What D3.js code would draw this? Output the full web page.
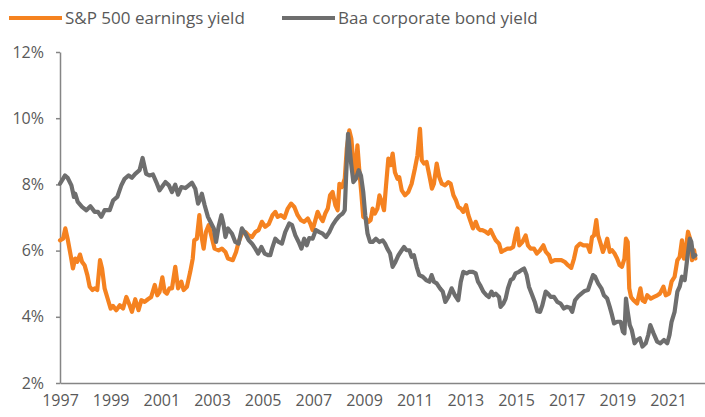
<!DOCTYPE html>
<html>
<head>
<meta charset="utf-8">
<script src="https://cdn.jsdelivr.net/npm/d3@7"></script>
<style>
  body { margin: 0; background: #fff; }
  text { font-family: "Open Sans", sans-serif; }
</style>
</head>
<body>
<div id="chart"></div>
<script>
const WIDTH = 705;
const HEIGHT = 417;
const MARGIN = { top: 52, right: 0, bottom: 34, left: 60 };

// series names + colours
const seriesNames = ['S&P 500 earnings yield', 'Baa corporate bond yield'];
const seriesColors = ['#f58220', '#6e6e6e'];

const yTicks = [2, 4, 6, 8, 10, 12];
const xTicks = [1997, 1999, 2001, 2003, 2005, 2007, 2009, 2011, 2013, 2015, 2017, 2019, 2021];

// S&P 500 earnings yield (%)
const earningsDates = [
  1997.0, 1997.12, 1997.21, 1997.3, 1997.42, 1997.51, 1997.6, 1997.68, 1997.79, 1997.87, 1997.97,
  1998.08, 1998.17, 1998.28, 1998.37, 1998.47, 1998.58, 1998.66, 1998.76, 1998.9,
  1999.0, 1999.09, 1999.22, 1999.36, 1999.49, 1999.62, 1999.75, 1999.84, 1999.97,
  2000.1, 2000.21, 2000.34, 2000.47, 2000.6, 2000.74, 2000.84, 2000.93,
  2001.04, 2001.13, 2001.22, 2001.32, 2001.42, 2001.55, 2001.66, 2001.79, 2001.88,
  2002.01, 2002.14, 2002.24, 2002.3, 2002.4, 2002.5, 2002.58, 2002.67, 2002.76, 2002.87, 2002.97,
  2003.1, 2003.26, 2003.39, 2003.53, 2003.63, 2003.82, 2003.95,
  2004.05, 2004.18, 2004.32, 2004.45, 2004.58, 2004.71, 2004.84, 2004.97,
  2005.1, 2005.24, 2005.39, 2005.5, 2005.59, 2005.72, 2005.86, 2005.99,
  2006.12, 2006.25, 2006.38, 2006.51, 2006.64, 2006.78, 2006.88, 2006.97,
  2007.08, 2007.17, 2007.26, 2007.37, 2007.47, 2007.57, 2007.66, 2007.76, 2007.87, 2007.96,
  2008.03, 2008.13, 2008.24, 2008.32, 2008.42, 2008.5, 2008.58, 2008.66, 2008.74, 2008.82, 2008.89, 2008.97,
  2009.08, 2009.18, 2009.26, 2009.34, 2009.43, 2009.53, 2009.61, 2009.7, 2009.79, 2009.87, 2009.96,
  2010.05, 2010.13, 2010.22, 2010.32, 2010.39, 2010.49, 2010.62, 2010.75, 2010.88,
  2011.01, 2011.11, 2011.21, 2011.28, 2011.37, 2011.47, 2011.58, 2011.68, 2011.76, 2011.87, 2011.97,
  2012.07, 2012.2, 2012.33, 2012.42, 2012.53, 2012.63, 2012.72, 2012.82, 2012.92,
  2013.03, 2013.12, 2013.21, 2013.3, 2013.41, 2013.51, 2013.58, 2013.67, 2013.8, 2013.9,
  2014.0, 2014.1, 2014.2, 2014.33, 2014.42, 2014.53, 2014.66, 2014.79, 2014.89, 2014.98,
  2015.05, 2015.13, 2015.25, 2015.38, 2015.47, 2015.58, 2015.71, 2015.82, 2015.95,
  2016.08, 2016.18, 2016.3, 2016.39, 2016.53, 2016.66, 2016.79, 2016.92,
  2017.05, 2017.18, 2017.29, 2017.39, 2017.53, 2017.66, 2017.82, 2017.92,
  2018.0, 2018.08, 2018.17, 2018.24, 2018.34, 2018.43, 2018.53, 2018.6, 2018.7, 2018.79, 2018.89, 2018.99,
  2019.09, 2019.18, 2019.28, 2019.34, 2019.41, 2019.47, 2019.54, 2019.64, 2019.78, 2019.91, 2019.99,
  2020.08, 2020.18, 2020.32, 2020.45, 2020.58, 2020.68, 2020.82, 2020.91,
  2021.04, 2021.14, 2021.26, 2021.37, 2021.46, 2021.55, 2021.63, 2021.72, 2021.79, 2021.87, 2021.95,
  2022.03, 2022.08
];
const earningsYield = [
  6.31, 6.36, 6.67, 6.36, 5.86, 5.46, 5.76, 5.66, 5.88, 5.66, 5.56,
  5.26, 4.91, 4.81, 4.86, 4.81, 5.71, 5.46, 4.86, 4.5,
  4.25, 4.33, 4.2, 4.35, 4.25, 4.6, 4.35, 4.15, 4.53,
  4.2, 4.5, 4.45, 4.53, 4.6, 4.96, 4.65, 4.75,
  5.19, 4.76, 4.7, 4.86, 4.86, 5.51, 4.86, 5.06, 4.81,
  4.91, 5.36, 5.76, 6.31, 6.36, 7.07, 6.46, 6.06, 6.56, 6.77, 6.46,
  6.06, 6.01, 6.06, 5.96, 5.76, 5.71, 5.96,
  6.26, 6.51, 6.56, 6.46, 6.41, 6.56, 6.62, 6.87,
  6.72, 6.8, 7.07, 7.17, 7.02, 7.07, 6.99, 7.27,
  7.42, 7.32, 7.07, 6.92, 6.87, 6.97, 6.82, 6.62,
  6.92, 7.17, 7.02, 6.89, 7.12, 7.27, 7.67, 7.77, 7.37, 7.22,
  8.02, 7.92, 8.17, 9.08, 9.63, 9.38, 8.68, 8.27, 9.18, 8.37, 7.77, 7.02,
  6.97, 6.87, 6.92, 7.27, 7.12, 7.27, 7.67, 7.47, 7.22, 7.97, 8.78,
  8.58, 8.93, 8.37, 8.17, 8.22, 7.82, 7.67, 7.77, 8.02,
  8.48, 8.88, 9.68, 8.73, 8.63, 8.68, 8.27, 7.87, 8.02, 8.63, 8.22,
  8.02, 7.97, 8.07, 8.02, 7.67, 7.52, 7.32, 7.27, 7.17,
  7.37, 7.07, 6.87, 6.67, 6.87, 6.67, 6.62, 6.62, 6.57, 6.51,
  6.62, 6.46, 6.31, 6.21, 5.96, 6.01, 6.06, 6.06, 6.11, 6.46,
  6.67, 6.16, 6.26, 6.46, 6.16, 6.06, 6.06, 5.91, 6.01,
  6.16, 5.96, 5.86, 5.66, 5.71, 5.71, 5.71, 5.66,
  5.56, 5.48, 5.76, 6.11, 6.21, 6.16, 6.16, 5.96,
  6.41, 6.46, 6.92, 6.46, 6.21, 5.96, 6.16, 6.36, 5.96, 6.01, 5.91, 5.76,
  5.56, 5.51, 5.76, 6.36, 6.26, 4.86, 4.6, 4.5, 4.4, 4.86, 4.5,
  4.45, 4.65, 4.55, 4.6, 4.65, 4.7, 4.91, 4.65,
  4.7, 5.06, 5.21, 5.71, 5.81, 6.31, 5.76, 6.16, 6.57, 6.36, 5.71,
  6.01, 5.76
];

// Baa corporate bond yield (%)
const baaDates = [
  1997.0, 1997.2, 1997.3, 1997.45, 1997.55, 1997.6, 1997.7, 1997.87,
  1998.04, 1998.2, 1998.37, 1998.5, 1998.63, 1998.76, 1998.96,
  1999.1, 1999.26, 1999.42, 1999.55, 1999.71, 1999.84, 1999.97,
  2000.14, 2000.26, 2000.4, 2000.53, 2000.67, 2000.8, 2000.93,
  2001.05, 2001.16, 2001.3, 2001.42, 2001.55, 2001.66, 2001.79, 2001.95,
  2002.08, 2002.21, 2002.34, 2002.45, 2002.54, 2002.6, 2002.71, 2002.84, 2002.97,
  2003.07, 2003.16, 2003.26, 2003.37, 2003.45, 2003.53, 2003.63, 2003.79, 2003.92,
  2004.05, 2004.18, 2004.32, 2004.45, 2004.58, 2004.71, 2004.82, 2004.95,
  2005.08, 2005.21, 2005.3, 2005.37, 2005.5, 2005.63, 2005.76, 2005.89,
  2006.05, 2006.16, 2006.29, 2006.42, 2006.53, 2006.64, 2006.74, 2006.84, 2006.97,
  2007.1, 2007.24, 2007.37, 2007.5, 2007.63, 2007.76, 2007.89,
  2008.03, 2008.16, 2008.24, 2008.29, 2008.37, 2008.42, 2008.5, 2008.58, 2008.68, 2008.79, 2008.88, 2008.97,
  2009.05, 2009.14, 2009.24, 2009.34, 2009.47, 2009.61, 2009.74, 2009.83, 2009.92,
  2010.03, 2010.13, 2010.24, 2010.36, 2010.49, 2010.58, 2010.68, 2010.79, 2010.88, 2010.97,
  2011.08, 2011.18, 2011.32, 2011.45, 2011.58, 2011.67, 2011.76, 2011.87,
  2012.0, 2012.11, 2012.21, 2012.33, 2012.46, 2012.59, 2012.72, 2012.82, 2012.92,
  2013.05, 2013.16, 2013.29, 2013.41, 2013.5, 2013.58, 2013.71, 2013.84, 2013.93,
  2014.03, 2014.11, 2014.2, 2014.33, 2014.39, 2014.5, 2014.59, 2014.68, 2014.79, 2014.89, 2014.98,
  2015.12, 2015.21, 2015.32, 2015.42, 2015.51, 2015.64, 2015.74, 2015.84, 2015.95,
  2016.04, 2016.17, 2016.26, 2016.37, 2016.5, 2016.63, 2016.76, 2016.89,
  2017.0, 2017.13, 2017.22, 2017.33, 2017.46, 2017.58, 2017.71, 2017.84, 2017.95,
  2018.04, 2018.12, 2018.24, 2018.37, 2018.47, 2018.6, 2018.7, 2018.79, 2018.87, 2018.99,
  2019.13, 2019.22, 2019.28, 2019.34, 2019.41, 2019.49, 2019.57, 2019.68, 2019.78, 2019.89, 2019.99,
  2020.12, 2020.22, 2020.3, 2020.43, 2020.57, 2020.7, 2020.84, 2020.97,
  2021.06, 2021.14, 2021.26, 2021.37, 2021.46, 2021.55, 2021.66, 2021.76, 2021.86, 2021.92,
  2022.0, 2022.08
];
const baaYield = [
  8.02, 8.27, 8.2, 7.97, 7.62, 7.72, 7.47, 7.32,
  7.22, 7.34, 7.17, 7.17, 7.02, 7.22, 7.22,
  7.52, 7.62, 7.97, 8.17, 8.27, 8.2, 8.32,
  8.43, 8.8, 8.32, 8.27, 8.3, 8.07, 7.82,
  7.95, 8.07, 7.97, 7.77, 7.99, 7.69, 7.92, 7.89,
  7.97, 8.05, 7.87, 7.42, 7.57, 7.72, 7.37, 7.02, 6.82,
  6.67, 6.26, 6.72, 7.07, 6.82, 6.41, 6.67, 6.51, 6.26,
  6.21, 6.67, 6.51, 6.31, 6.21, 6.06, 5.91, 6.11,
  5.91, 5.86, 5.86, 6.06, 6.36, 6.26, 6.21, 6.56,
  6.82, 6.77, 6.46, 6.26, 6.06, 6.36, 6.16, 6.38, 6.36,
  6.62, 6.56, 6.51, 6.41, 6.56, 6.77, 6.92,
  7.05, 7.12, 7.22, 8.17, 9.53, 9.18, 8.58, 8.07, 8.17, 8.43, 8.27, 7.77,
  7.07, 6.51, 6.26, 6.26, 6.36, 6.26, 6.31, 6.21, 6.06,
  5.91, 5.51, 5.66, 5.86, 6.01, 6.11, 6.01, 6.01, 5.81, 5.86,
  5.51, 5.26, 5.21, 5.11, 5.06, 5.26, 5.06, 5.01,
  4.86, 4.76, 4.45, 4.6, 4.86, 4.65, 4.5, 5.06, 5.36,
  5.31, 5.36, 5.36, 5.31, 5.06, 4.96, 4.76, 4.65, 4.6,
  4.76, 4.65, 4.7, 4.6, 4.3, 4.4, 4.55, 4.86, 5.11, 5.16, 5.31,
  5.36, 5.41, 5.46, 5.26, 4.91, 4.65, 4.45, 4.17, 4.15,
  4.35, 4.76, 4.7, 4.6, 4.6, 4.45, 4.4, 4.25,
  4.3, 4.27, 4.15, 4.5, 4.62, 4.7, 4.78, 4.81, 5.06,
  5.26, 5.21, 5.01, 4.86, 4.65, 4.55, 4.3, 4.05, 3.8, 3.85,
  3.85, 3.55, 3.5, 4.55, 4.15, 3.75, 3.6, 3.2, 3.3, 3.35, 3.1,
  3.2, 3.45, 3.75, 3.5, 3.25, 3.2, 3.3, 3.2,
  3.45, 3.85, 4.15, 4.76, 4.91, 5.21, 5.11, 5.76, 6.36, 6.26,
  5.81, 5.86
];

const svg = d3.select('#chart')
  .append('svg')
  .attr('width', WIDTH)
  .attr('height', HEIGHT);

const x = d3.scaleLinear()
  .domain([1997, 2022.46])
  .range([MARGIN.left, WIDTH - MARGIN.right]);

const y = d3.scaleLinear()
  .domain([2, 12])
  .range([HEIGHT - MARGIN.bottom, MARGIN.top]);

// y axis
svg.append('g')
  .attr('transform', `translate(${MARGIN.left},0)`)
  .call(d3.axisLeft(y).tickValues(yTicks).tickFormat(d => d + '%').tickSize(4).tickSizeOuter(0).tickPadding(12));

// x axis
svg.append('g')
  .attr('transform', `translate(0,${HEIGHT - MARGIN.bottom})`)
  .call(d3.axisBottom(x).tickValues(xTicks).tickFormat(d3.format('d')).tickSize(0).tickPadding(12));

svg.selectAll('.domain, .tick line')
  .attr('stroke', '#858585')
  .attr('stroke-width', 1.5);

svg.selectAll('.tick text')
  .attr('fill', '#595959')
  .style('font-size', '16px');

// lines
const line = d3.line()
  .x(d => x(d[0]))
  .y(d => y(d[1]))
  .curve(d3.curveLinear);

const lineData = [
  d3.zip(earningsDates, earningsYield),
  d3.zip(baaDates, baaYield)
];

svg.selectAll('path.series')
  .data(lineData)
  .join('path')
  .attr('class', 'series')
  .attr('fill', 'none')
  .attr('stroke', (_, i) => seriesColors[i])
  .attr('stroke-width', 4.2)
  .attr('stroke-linejoin', 'round')
  .attr('stroke-linecap', 'round')
  .attr('d', line);

// legend
const legendX = [9, 282];
const legend = svg.selectAll('g.legend')
  .data(seriesNames)
  .join('g')
  .attr('class', 'legend')
  .attr('transform', (_, i) => `translate(${legendX[i]},18)`);

legend.append('line')
  .attr('x1', 0)
  .attr('x2', 53)
  .attr('stroke', (_, i) => seriesColors[i])
  .attr('stroke-width', 4);

legend.append('text')
  .attr('x', 56)
  .attr('y', 6)
  .attr('fill', '#595959')
  .style('font-size', '17px')
  .text(d => d);
</script>
</body>
</html>
